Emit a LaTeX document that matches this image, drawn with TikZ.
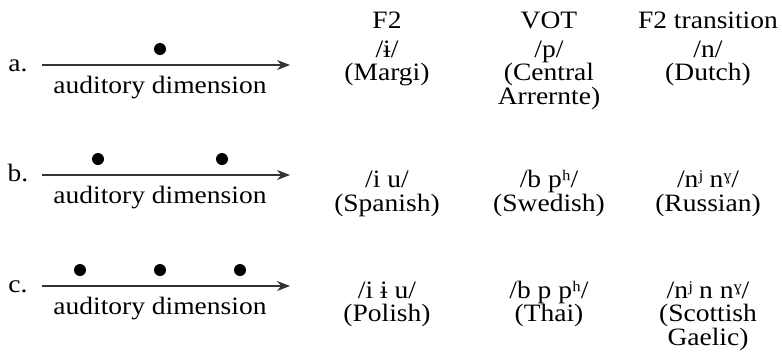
\documentclass[tikz,border=0pt]{standalone}
\usepackage{fontspec}
\setmainfont[FakeStretch=1.1]{Liberation Serif}
\usetikzlibrary{arrows.meta}
\tikzset{axis/.style={draw=black!80,line width=1.1bp,-{Stealth[length=13bp,width=10bp]}}}
\tikzset{pt/.style={circle,fill=black,minimum size=12bp,inner sep=0pt}}
\tikzset{lbl/.style={anchor=base,inner sep=0pt,font=\fontsize{25bp}{23.5bp}\selectfont,align=center}}

\begin{document}
\begin{tikzpicture}[x=1bp,y=-1bp]
    \useasboundingbox (0,0) rectangle (782,351);

    % column heads
    \node[lbl] (hF) at (387,28) {F2};
    \node[lbl] (hV) at (549,28) {VOT};
    \node[lbl] (hT) at (708,28) {F2 transition};

    % row a
    \node[lbl] (la) at (18,71.5) {a.};
    \coordinate (a0) at (42,65);
    \coordinate (a1) at (290,65);
    \draw[axis] (a0) -- (a1);
    \node[pt] (pa1) at (160,49) {};
    \node[lbl] (da) at (160,93) {auditory dimension};

    \node[lbl] (aF) at (387,80.5) {/ɨ/\\(Margi)};
    \node[lbl] (aV) at (549,104) {/p/\\(Central\\Arrernte)};
    \node[lbl] (aT) at (708,80.5) {/n/\\(Dutch)};

    % row b
    \node[lbl] (lb) at (18,181.5) {b.};
    \coordinate (b0) at (42,175);
    \coordinate (b1) at (290,175);
    \draw[axis] (b0) -- (b1);
    \node[pt] (pb1) at (98,159) {};
    \node[pt] (pb2) at (222,159) {};
    \node[lbl] (db) at (160,203) {auditory dimension};

    \node[lbl] (bF) at (387,211) {/i u/\\(Spanish)};
    \node[lbl] (bV) at (549,211) {/b pʰ/\\(Swedish)};
    \node[lbl] (bT) at (708,211) {/nʲ nˠ/\\(Russian)};

    % row c
    \node[lbl] (lc) at (18,292) {c.};
    \coordinate (c0) at (42,286);
    \coordinate (c1) at (290,286);
    \draw[axis] (c0) -- (c1);
    \node[pt] (pc1) at (80,270) {};
    \node[pt] (pc2) at (160,270) {};
    \node[pt] (pc3) at (240,270) {};
    \node[lbl] (dc) at (160,314) {auditory dimension};

    \node[lbl] (cF) at (387,321.5) {/i ɨ u/\\(Polish)};
    \node[lbl] (cV) at (549,321.5) {/b p pʰ/\\(Thai)};
    \node[lbl] (cT) at (708,345) {/nʲ n nˠ/\\(Scottish\\Gaelic)};
\end{tikzpicture}
\end{document}
